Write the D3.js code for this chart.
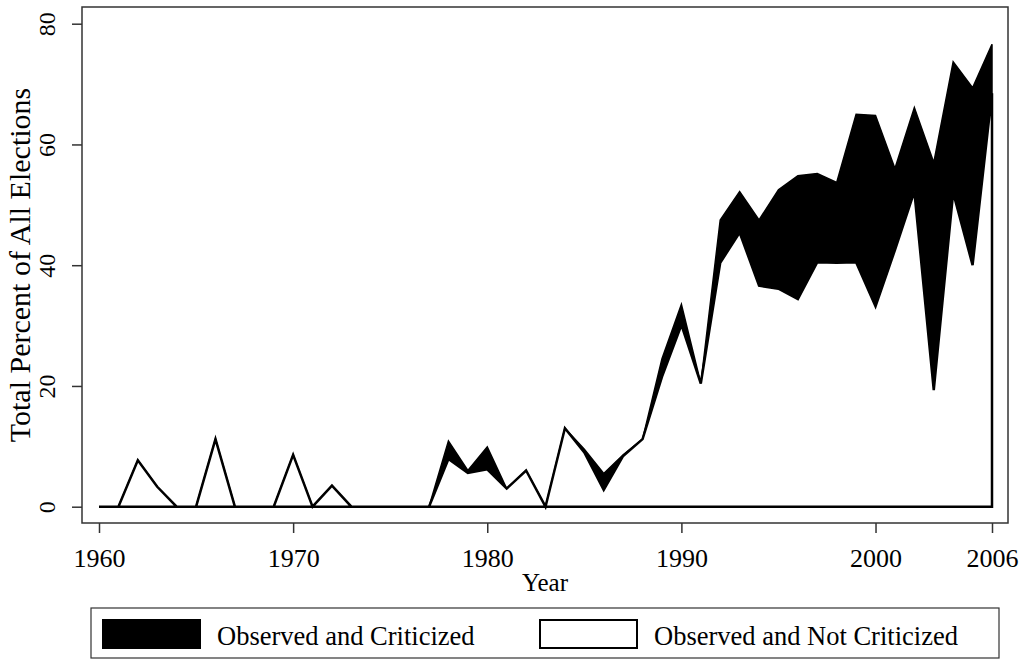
<!DOCTYPE html>
<html>
<head>
<meta charset="utf-8">
<script src="https://cdn.jsdelivr.net/npm/d3@7"></script>
<style>
  html, body { margin: 0; padding: 0; background: #fff; }
  svg { display: block; }
  text { font-family: "Liberation Serif", "Times New Roman", serif; fill: #000; }
</style>
</head>
<body>
<svg id="chart" width="1024" height="660"></svg>
<script>
// ---- data ----
const years = d3.range(1960, 2007);
const totalObserved = [
  0, 0, 7.7, 3.3, 0, 0, 11.2, 0, 0, 0,
  8.6, 0, 3.5, 0, 0, 0, 0, 0, 10.9, 6.0,
  9.9, 3.0, 6.0, 0, 13.0, 9.5, 5.5, 8.6, 11.2, 24.5,
  33.5, 20.4, 47.5, 52.2, 47.5, 52.5, 54.8, 55.2, 53.7, 65.0,
  64.8, 56.0, 66.1, 57.0, 73.7, 69.4, 76.6
];
const notCriticized = [
  0, 0, 7.7, 3.3, 0, 0, 11.2, 0, 0, 0,
  8.6, 0, 3.5, 0, 0, 0, 0, 0, 7.9, 5.6,
  6.2, 3.0, 6.0, 0, 13.0, 9.0, 2.8, 8.4, 11.2, 21.5,
  30.1, 20.4, 40.4, 45.4, 36.6, 36.1, 34.4, 40.5, 40.4, 40.5,
  33.2, 42.5, 52.2, 19.3, 52.0, 40.0, 68.5
];
const xTicks = [1960, 1970, 1980, 1990, 2000, 2006];
const yTicks = [0, 20, 40, 60, 80];
const seriesNames = ["Observed and Criticized", "Observed and Not Criticized"];
const yTitle = "Total Percent of All Elections";
const xTitle = "Year";

const data = years.map((y, i) => ({ year: y, total: totalObserved[i], nc: notCriticized[i] }));

// ---- layout ----
const svg = d3.select("#chart");
const frame = { left: 82, top: 7, right: 1008, bottom: 523 };
const x = d3.scaleLinear().domain([1960, 2006]).range([99, 992]);
const y = d3.scaleLinear().domain([0, 80]).range([506.7, 23.7]);

// plot region frame
svg.append("rect")
  .attr("x", frame.left).attr("y", frame.top)
  .attr("width", frame.right - frame.left).attr("height", frame.bottom - frame.top)
  .attr("fill", "#fff").attr("stroke", "#333").attr("stroke-width", 1.5);

// black area: criticized (stacked on top of not criticized)
const areaTop = d3.area()
  .x(d => x(d.year))
  .y0(d => y(d.nc))
  .y1(d => y(d.total));
svg.append("path").datum(data)
  .attr("d", areaTop)
  .attr("fill", "#000").attr("stroke", "#000").attr("stroke-width", 1.5);

// white area: not criticized with black outline
const areaBottom = d3.area()
  .x(d => x(d.year))
  .y0(y(0))
  .y1(d => y(d.nc));
svg.append("path").datum(data)
  .attr("d", areaBottom)
  .attr("fill", "#fff").attr("stroke", "#000").attr("stroke-width", 2.5);

// y axis
const yAxis = d3.axisLeft(y).tickValues(yTicks).tickSize(10).tickFormat(d3.format("d"));
const gy = svg.append("g").attr("transform", `translate(${frame.left},0)`).call(yAxis);
gy.select(".domain").remove();
gy.selectAll(".tick line").attr("stroke", "#333").attr("stroke-width", 1.5);
gy.selectAll(".tick text")
  .attr("font-size", 24)
  .attr("text-anchor", "middle")
  .attr("dy", 0)
  .attr("x", 0).attr("y", 0)
  .attr("transform", "translate(-27,0) rotate(-90)");

// x axis
const xAxis = d3.axisBottom(x).tickValues(xTicks).tickSize(10).tickFormat(d3.format("d"));
const gx = svg.append("g").attr("transform", `translate(0,${frame.bottom})`).call(xAxis);
gx.select(".domain").remove();
gx.selectAll(".tick line").attr("stroke", "#333").attr("stroke-width", 1.5);
gx.selectAll(".tick text").attr("font-size", 26).attr("dy", 0).attr("y", 44);

// axis titles
svg.append("text")
  .attr("transform", `translate(30,${(frame.top + frame.bottom) / 2}) rotate(-90)`)
  .attr("text-anchor", "middle").attr("font-size", 30)
  .text(yTitle);
svg.append("text")
  .attr("x", 545).attr("y", 591)
  .attr("text-anchor", "middle").attr("font-size", 25)
  .text(xTitle);

// legend
const lg = svg.append("g");
lg.append("rect").attr("x", 91).attr("y", 608).attr("width", 908).attr("height", 50)
  .attr("fill", "#fff").attr("stroke", "#333").attr("stroke-width", 1.2);
const keys = [
  { name: seriesNames[0], fill: "#000", sx: 103, tx: 217 },
  { name: seriesNames[1], fill: "#fff", sx: 540, tx: 654 }
];
keys.forEach(k => {
  lg.append("rect").attr("x", k.sx).attr("y", 620).attr("width", 97).attr("height", 28)
    .attr("fill", k.fill).attr("stroke", "#000").attr("stroke-width", 2);
  lg.append("text").attr("x", k.tx).attr("y", 645).attr("font-size", 26.5).text(k.name);
});
</script>
</body>
</html>
